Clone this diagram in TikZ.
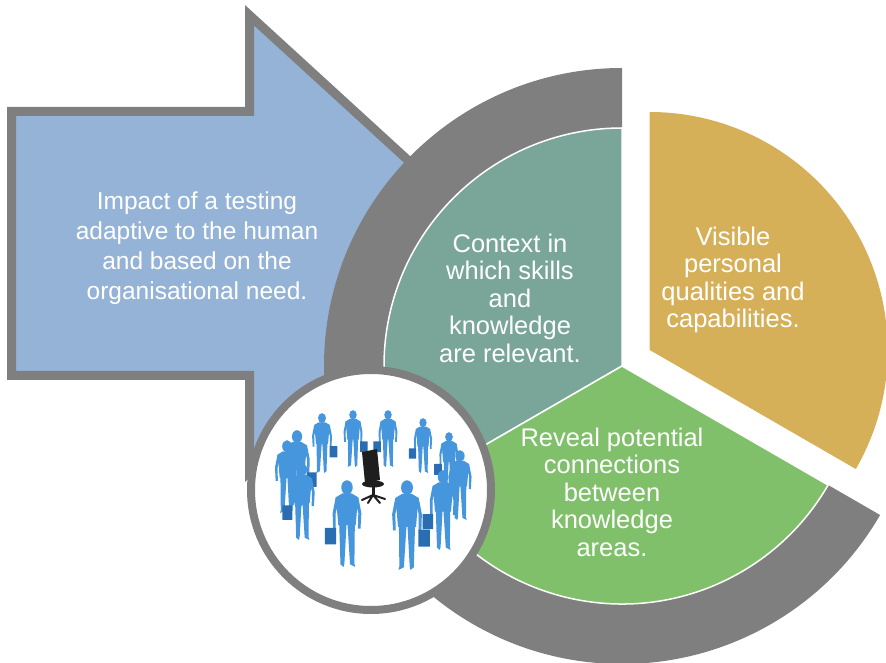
\documentclass[tikz,border=0pt]{standalone}
\usepackage{fontspec}
\setmainfont{Liberation Sans}
\definecolor{arrowblue}{HTML}{95B3D7}
\definecolor{ringgray}{HTML}{7F7F7F}
\definecolor{tealseg}{HTML}{79A698}
\definecolor{greenseg}{HTML}{80C06B}
\definecolor{goldseg}{HTML}{D6B058}
\definecolor{personblue}{HTML}{4596DC}
\definecolor{casebg}{HTML}{2B6DB3}
\definecolor{chairblk}{HTML}{1E1E1E}
\tikzset{
  figure/.pic={
    % legs
    \fill[personblue] (-0.09,0.50) -- (-0.005,0.50) -- (-0.035,0.03) -- (-0.095,0.0) -- (-0.085,0.04) -- cycle;
    \fill[personblue] (0.005,0.50) -- (0.09,0.50) -- (0.075,0.03) -- (0.04,0.0) -- (0.03,0.04) -- cycle;
    % torso
    \fill[personblue] (-0.055,0.845) -- (-0.13,0.80) .. controls (-0.115,0.66) .. (-0.10,0.48)
      -- (0.10,0.48) .. controls (0.115,0.66) .. (0.13,0.80) -- (0.055,0.845) -- cycle;
    % arms
    \fill[personblue] (-0.13,0.80) -- (-0.165,0.62) -- (-0.155,0.44) -- (-0.125,0.44) -- (-0.13,0.62) -- (-0.10,0.74) -- cycle;
    \fill[personblue] (0.13,0.80) -- (0.165,0.62) -- (0.16,0.44) -- (0.13,0.44) -- (0.13,0.62) -- (0.10,0.74) -- cycle;
    % head
    \fill[personblue] (0,0.915) ellipse[x radius=0.066, y radius=0.082];
    % briefcase
    \fill[casebg, rounded corners=0.4pt] (0.125,0.26) rectangle (0.255,0.45);
  }
}
\begin{document}
\begin{tikzpicture}[x=1pt,y=1pt,
  labeltext/.style={text=white, align=center, inner sep=0pt,
    font=\fontsize{25.5}{27.5}\selectfont},
  segment/.style={draw=white, line width=1.5pt, line join=round}]
\useasboundingbox (0,0) rectangle (886,662);

% big arrow pointing into the cycle
\filldraw[fill=arrowblue, draw=ringgray, line width=9pt]
  (11.5,550.5) -- (249.5,550.5) -- (249.5,646.75) -- (499,418.5)
  -- (249.5,190.25) -- (249.5,286.5) -- (11.5,286.5) -- cycle;

% grey outer band of the cycle
\fill[ringgray, shift={(622,296)}]
  (90:236) -- (90:298) arc[start angle=90, end angle=330, radius=298]
  -- (330:236) arc[start angle=330, end angle=90, radius=236] -- cycle;

% three segments
\fill[tealseg, segment, shift={(622,296)}]
  (0,0) -- (90:238) arc[start angle=90, end angle=210, radius=238] -- cycle;
\fill[greenseg, segment, shift={(622,296)}]
  (0,0) -- (210:238) arc[start angle=210, end angle=330, radius=238] -- cycle;
\fill[goldseg, shift={(649.7,312)}]
  (0,0) -- (-30:238) arc[start angle=-30, end angle=90, radius=238] -- cycle;

% team circle
\draw[ringgray, line width=8pt, fill=white] (371,172) circle[radius=120];

% people behind the chair
\pic[scale=57] at (353,195) {figure};
\pic[scale=57, xscale=-1] at (388,195) {figure};
\pic[scale=60] at (322,189) {figure};
\pic[scale=55, xscale=-1] at (423,189) {figure};
\pic[scale=58, xscale=-1] at (449,172) {figure};

% empty chair
\fill[chairblk] (362,210) -- (377,213) -- (380,182) -- (365,179) -- cycle;
\fill[chairblk] (373,178) ellipse[x radius=11, y radius=3.5];
\fill[chairblk] (371.5,176) rectangle (374.5,167);
\draw[chairblk, line width=2pt, line cap=round]
  (373,167) -- (362,162) (373,167) -- (385,163) (373,167) -- (368,159) (373,167) -- (380,159);

% people in front of the chair
\pic[scale=77] at (297,155) {figure};
\pic[scale=73] at (287,149) {figure};
\pic[scale=70, xscale=-1] at (460,142) {figure};
\pic[scale=77, xscale=-1] at (302,122) {figure};
\pic[scale=80, xscale=-1] at (443,112) {figure};
\pic[scale=87, xscale=-1] at (347,95) {figure};
\pic[scale=90] at (407,92) {figure};

% texts
\node[labeltext, font=\fontsize{24.5}{30}\selectfont] (impact) at (197,414)
  {Impact of a testing\\adaptive to the human\\and based on the\\organisational need.};
\node[labeltext] (context) at (510,364)
  {Context in\\which skills\\and\\knowledge\\are relevant.};
\node[labeltext] (visible) at (733,382)
  {Visible\\personal\\qualities and\\capabilities.};
\node[labeltext] (reveal) at (612,170)
  {Reveal potential\\connections\\between\\knowledge\\areas.};
\end{tikzpicture}
\end{document}
